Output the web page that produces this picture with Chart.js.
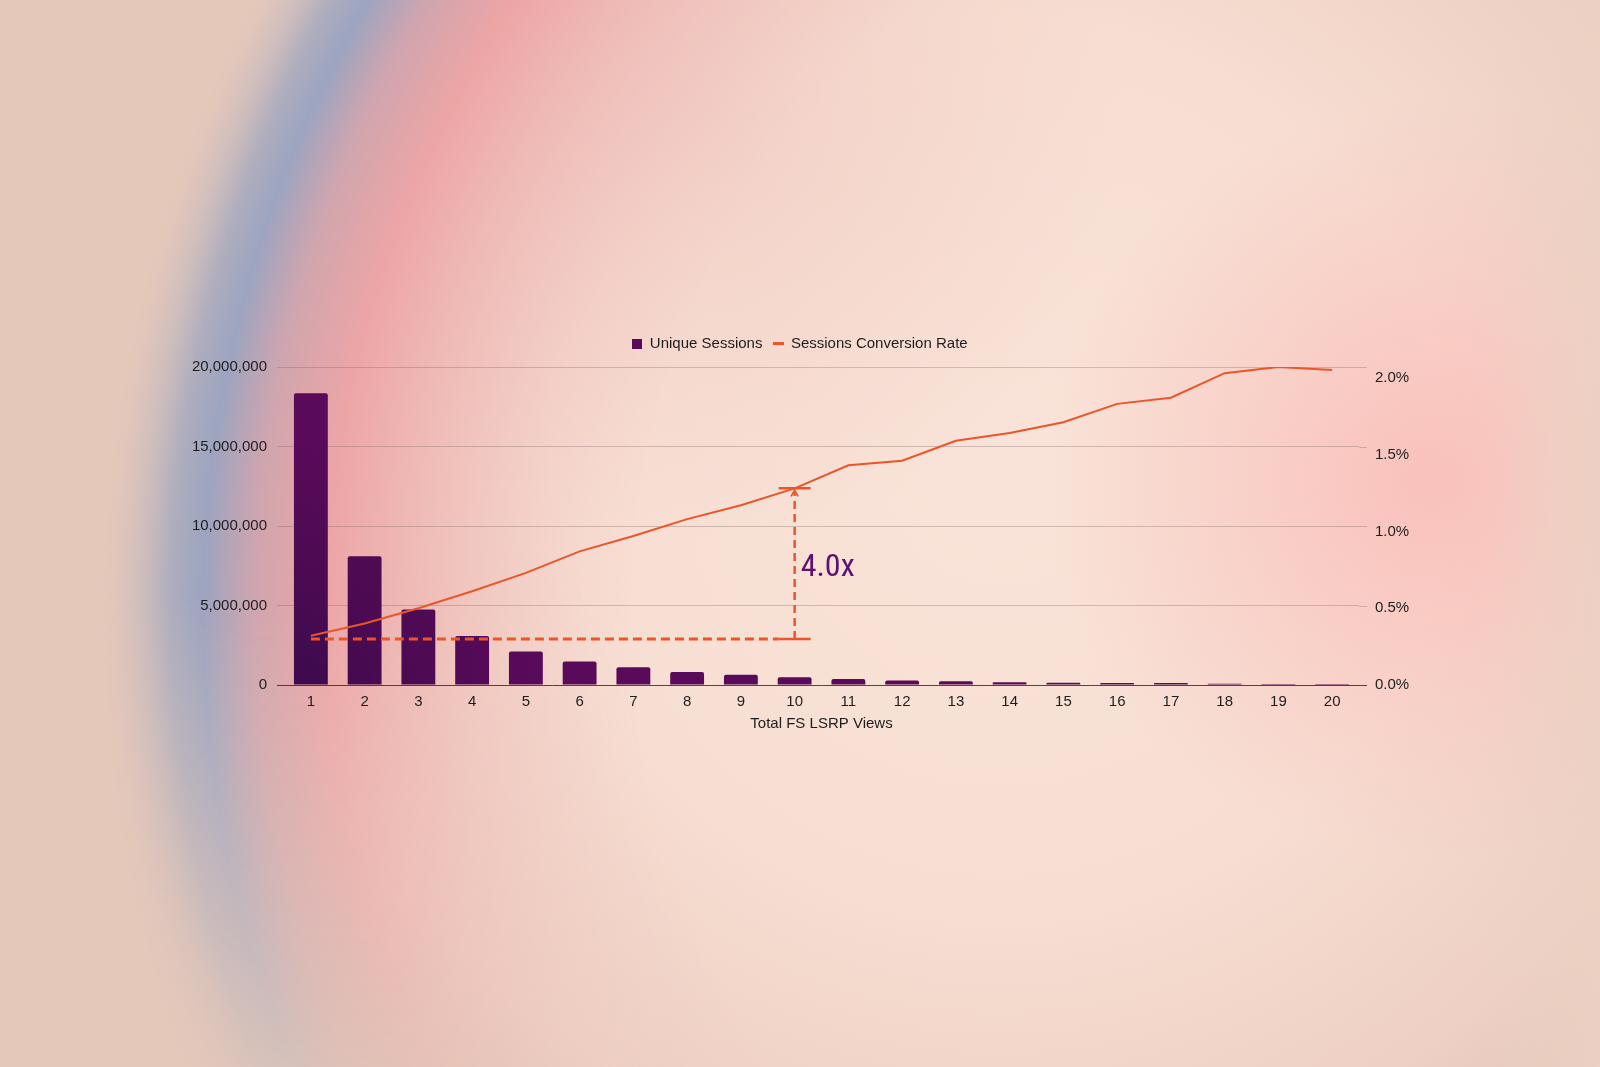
<!DOCTYPE html>
<html>
<head>
<meta charset="utf-8">
<script src="https://cdn.jsdelivr.net/npm/chart.js@4"></script>
<style>
  html, body { margin: 0; padding: 0; overflow: hidden; }
  #wrap { position: relative; width: 1600px; height: 1067px; }
  #bg, #chart { position: absolute; left: 0; top: 0; }
</style>
</head>
<body>
<div id="wrap">
  <canvas id="bg" width="1600" height="1067"></canvas>
  <canvas id="chart" width="1600" height="1067"></canvas>
</div>
<script>
// 데이터
const views = ['1', '2', '3', '4', '5', '6', '7', '8', '9', '10',
               '11', '12', '13', '14', '15', '16', '17', '18', '19', '20'];
const uniqueSessions = [18350000, 8100000, 4750000, 3080000, 2100000, 1480000, 1110000, 820000, 650000, 490000,
                        380000, 290000, 230000, 180000, 140000, 130000, 120000, 80000, 70000, 60000];
const conversionRate = [0.32, 0.40, 0.50, 0.61, 0.73, 0.87, 0.97, 1.08, 1.17, 1.28,
                        1.43, 1.46, 1.59, 1.64, 1.71, 1.83, 1.87, 2.03, 2.07, 2.05];
const leftTicks = [0, 5000000, 10000000, 15000000, 20000000];
const rightTicks = [0, 0.5, 1.0, 1.5, 2.0];
const rightMax = 2.07;

// 4.0x 주석
const annotBase = 0.30;
const annotFrom = 0;   // 1 views
const annotTo = 9;     // 10 views
const annotLabel = '4.0x';

const PURPLE = '#5a0a5b';
const ORANGE = '#ea5629';
const FONT = "'Liberation Sans', Arial, sans-serif";

// 배경 그리기
function drawBackground() {
    const c = document.getElementById('bg');
    const ctx = c.getContext('2d');
    const W = c.width, H = c.height;

    ctx.fillStyle = '#e4c8ba';
    ctx.fillRect(0, 0, W, H);

    let g = ctx.createRadialGradient(1000, 470, 0, 1000, 470, 900);
    g.addColorStop(0, 'rgba(249,227,216,1)');
    g.addColorStop(0.5, 'rgba(247,222,210,1)');
    g.addColorStop(0.8, 'rgba(242,212,200,0.7)');
    g.addColorStop(1, 'rgba(228,200,186,0)');
    ctx.fillStyle = g;
    ctx.fillRect(0, 0, W, H);

    // 위쪽 분홍 기운
    g = ctx.createRadialGradient(700, 120, 0, 700, 120, 420);
    g.addColorStop(0, 'rgba(240,200,192,0.6)');
    g.addColorStop(1, 'rgba(240,200,192,0)');
    ctx.fillStyle = g;
    ctx.fillRect(0, 0, W, H);

    // 왼쪽 링
    const off = document.createElement('canvas');
    off.width = W; off.height = H;
    const o = off.getContext('2d');
    g = o.createRadialGradient(1424, 612, 0, 1424, 612, 1320);
    g.addColorStop(0, 'rgba(240,195,190,0)');
    g.addColorStop(0.6, 'rgba(240,195,190,0)');
    g.addColorStop(0.72, 'rgba(238,182,180,0.5)');
    g.addColorStop(0.83, 'rgba(236,160,162,0.9)');
    g.addColorStop(0.885, 'rgba(205,160,172,0.9)');
    g.addColorStop(0.925, 'rgba(152,162,192,0.95)');
    g.addColorStop(0.95, 'rgba(160,166,190,0.8)');
    g.addColorStop(0.985, 'rgba(200,185,190,0.3)');
    g.addColorStop(1, 'rgba(220,196,186,0)');
    o.fillStyle = g;
    o.fillRect(0, 0, W, H);
    o.globalCompositeOperation = 'destination-in';
    const m = o.createLinearGradient(0, 600, 0, 1067);
    m.addColorStop(0, 'rgba(0,0,0,1)');
    m.addColorStop(1, 'rgba(0,0,0,0.2)');
    o.fillStyle = m;
    o.fillRect(0, 0, W, H);
    ctx.drawImage(off, 0, 0);

    // 오른쪽 분홍
    g = ctx.createRadialGradient(1430, 480, 0, 1430, 480, 380);
    g.addColorStop(0, 'rgba(250,186,182,0.8)');
    g.addColorStop(1, 'rgba(250,186,182,0)');
    ctx.fillStyle = g;
    ctx.fillRect(0, 0, W, H);

    // 오른쪽 가장자리
    g = ctx.createLinearGradient(1480, 0, 1600, 0);
    g.addColorStop(0, 'rgba(236,210,196,0)');
    g.addColorStop(1, 'rgba(236,210,196,0.8)');
    ctx.fillStyle = g;
    ctx.fillRect(1480, 0, 120, H);
}

// 범례 마커
function makeMarker(w, h, color) {
    const c = document.createElement('canvas');
    c.width = w; c.height = h;
    const x = c.getContext('2d');
    x.fillStyle = color;
    x.fillRect(0, 0, w, h);
    return c;
}
const markers = [makeMarker(10, 10, PURPLE), makeMarker(11, 3, ORANGE)];

// 막대 색 (왼쪽 아래가 더 어두움)
function barColor(context) {
    const chart = context.chart;
    const area = chart.chartArea;
    if (!area) return PURPLE;
    const g = chart.ctx.createRadialGradient(area.left, area.bottom + 10, 0, area.left, area.bottom + 10, 260);
    g.addColorStop(0, '#3a0b4c');
    g.addColorStop(0.45, '#4c0a52');
    g.addColorStop(1, PURPLE);
    return g;
}

// 범례 높이 조정
const legendGap = {
    id: 'legendGap',
    beforeLayout(chart) {
        const lg = chart.legend;
        if (lg && !lg._gapPatched) {
            const fit = lg.fit;
            lg.fit = function() {
                fit.call(this);
                this.height += 6;
            };
            lg._gapPatched = true;
        }
    }
};

// 격자선 오른쪽 연장
const gridExtend = {
    id: 'gridExtend',
    beforeDatasetsDraw(chart) {
        const ctx = chart.ctx;
        const ys = chart.scales.y;
        const right = chart.chartArea.right;
        ctx.save();
        ctx.lineWidth = 1;
        ys.ticks.forEach(t => {
            const y = Math.round(ys.getPixelForValue(t.value)) + 0.5;
            ctx.strokeStyle = t.value === 0 ? zeroColor : gridColor;
            ctx.beginPath();
            ctx.moveTo(right, y);
            ctx.lineTo(right + 8, y);
            ctx.stroke();
        });
        ctx.restore();
    }
};

// 4.0x 주석 그리기
const ratioAnnotation = {
    id: 'ratioAnnotation',
    afterDatasetsDraw(chart) {
        const ctx = chart.ctx;
        const xs = chart.scales.x;
        const ys = chart.scales.y1;
        const x0 = xs.getPixelForValue(annotFrom);
        const x1 = xs.getPixelForValue(annotTo);
        const yb = ys.getPixelForValue(annotBase);
        const yt = ys.getPixelForValue(conversionRate[annotTo]);
        const cap = 16;

        ctx.save();
        ctx.strokeStyle = ORANGE;

        // 가로 점선
        ctx.lineWidth = 3;
        ctx.setLineDash([9, 5]);
        ctx.beginPath();
        ctx.moveTo(x0, yb);
        ctx.lineTo(x1 - cap, yb);
        ctx.stroke();

        // 캡
        ctx.setLineDash([]);
        ctx.lineWidth = 2.5;
        ctx.beginPath();
        ctx.moveTo(x1 - cap, yb);
        ctx.lineTo(x1 + cap, yb);
        ctx.moveTo(x1 - cap, yt);
        ctx.lineTo(x1 + cap, yt);
        ctx.stroke();

        // 세로 점선
        ctx.setLineDash([8, 5]);
        ctx.beginPath();
        ctx.moveTo(x1, yb);
        ctx.lineTo(x1, yt + 4);
        ctx.stroke();

        // 화살촉
        ctx.setLineDash([]);
        ctx.lineWidth = 1.8;
        ctx.beginPath();
        ctx.moveTo(x1 - 3.5, yt + 8);
        ctx.lineTo(x1, yt + 2);
        ctx.lineTo(x1 + 3.5, yt + 8);
        ctx.stroke();

        // 텍스트
        ctx.fillStyle = '#5e1270';
        ctx.font = "32px 'Liberation Sans Narrow', 'Roboto Condensed', 'DejaVu Sans Condensed', sans-serif";
        ctx.textAlign = 'left';
        ctx.textBaseline = 'middle';
        ctx.fillText(annotLabel, x1 + 6, (yb + yt) / 2 + 4);
        ctx.restore();
    }
};

drawBackground();

const gridColor = 'rgba(120, 100, 100, 0.32)';
const zeroColor = 'rgba(55, 40, 40, 0.85)';

new Chart(document.getElementById('chart'), {
    data: {
        labels: views,
        datasets: [{
            type: 'bar',
            label: 'Unique Sessions',
            data: uniqueSessions,
            backgroundColor: barColor,
            borderRadius: { topLeft: 2, topRight: 2 },
            borderSkipped: 'bottom',
            categoryPercentage: 1.0,
            barPercentage: 0.63,
            yAxisID: 'y',
            order: 2
        }, {
            type: 'line',
            label: 'Sessions Conversion Rate',
            data: conversionRate,
            borderColor: ORANGE,
            borderWidth: 2,
            pointRadius: 0,
            tension: 0,
            yAxisID: 'y1',
            order: 1
        }]
    },
    options: {
        responsive: false,
        animation: false,
        layout: {
            padding: { top: 325, bottom: 332, left: 0, right: 0 }
        },
        plugins: {
            legend: {
                position: 'top',
                labels: {
                    usePointStyle: true,
                    boxWidth: 10,
                    boxHeight: 10,
                    padding: 11,
                    color: '#1e1e1e',
                    font: { family: FONT, size: 15 },
                    generateLabels: chart => chart.data.datasets.map((ds, i) => ({
                        text: ds.label,
                        pointStyle: markers[i],
                        fillStyle: 'transparent',
                        strokeStyle: 'transparent',
                        lineWidth: 0,
                        hidden: false,
                        datasetIndex: i,
                        fontColor: '#1e1e1e'
                    }))
                }
            },
            tooltip: { enabled: false }
        },
        scales: {
            x: {
                grid: { display: false, drawTicks: false },
                border: { display: false },
                ticks: {
                    color: '#1e1e1e',
                    padding: 8,
                    font: { family: FONT, size: 15 },
                    maxRotation: 0
                },
                title: {
                    display: true,
                    text: 'Total FS LSRP Views',
                    color: '#1e1e1e',
                    font: { family: FONT, size: 15 },
                    padding: { top: 0, bottom: 2 }
                },
                afterFit: s => { s.height = 50; }
            },
            y: {
                position: 'left',
                min: 0,
                max: 20000000,
                afterBuildTicks: s => { s.ticks = leftTicks.map(v => ({ value: v })); },
                grid: {
                    color: c => (c.tick && c.tick.value === 0) ? zeroColor : gridColor,
                    lineWidth: 1,
                    drawTicks: true,
                    tickLength: 7
                },
                border: { display: false },
                ticks: {
                    color: '#1e1e1e',
                    padding: 10,
                    font: { family: FONT, size: 15 },
                    callback: v => Number(v).toLocaleString('en-US')
                },
                afterFit: s => { s.width = 284; }
            },
            y1: {
                position: 'right',
                min: 0,
                max: rightMax,
                afterBuildTicks: s => { s.ticks = rightTicks.map(v => ({ value: v })); },
                grid: { display: false, drawTicks: false },
                border: { display: false },
                ticks: {
                    color: '#1e1e1e',
                    padding: 16,
                    font: { family: FONT, size: 15 },
                    callback: v => Number(v).toFixed(1) + '%'
                },
                afterFit: s => { s.width = 241; }
            }
        }
    },
    plugins: [legendGap, gridExtend, ratioAnnotation]
});
</script>
</body>
</html>
